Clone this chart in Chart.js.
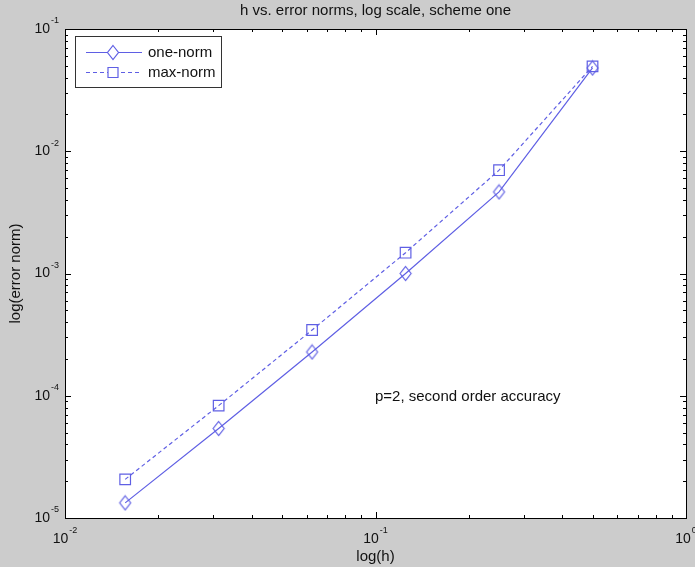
<!DOCTYPE html>
<html>
<head>
<meta charset="utf-8">
<script src="https://cdn.jsdelivr.net/npm/chart.js@4"></script>
<style>
  body { margin: 0; background: #cccccc; }
</style>
</head>
<body>
<canvas id="myChart" width="695" height="567"></canvas>
<script>
// step sizes h and the two error norms
var hValues = [0.015625, 0.03125, 0.0625, 0.125, 0.25, 0.5];
var oneNorm = [1.33e-5, 5.4e-5, 2.28e-4, 1.0e-3, 4.65e-3, 4.8e-2];
var maxNorm = [2.07e-5, 8.3e-5, 3.45e-4, 1.48e-3, 7.0e-3, 4.95e-2];
var xTickExps = [-2, -1, 0];
var yTickExps = [-5, -4, -3, -2, -1];
var seriesNames = ["one-norm", "max-norm"];

var lineColor = "rgb(95,95,228)";
var FONT = "Liberation Sans, Arial, sans-serif";

function toPoints(ys) {
  var pts = [];
  for (var i = 0; i < hValues.length; i++) {
    pts.push({x: hValues[i], y: ys[i]});
  }
  return pts;
}

// matlab style diamond, a bit taller than wide
function diamondPath(ctx, x, y) {
  ctx.moveTo(x, y - 7);
  ctx.lineTo(x + 5.5, y);
  ctx.lineTo(x, y + 7);
  ctx.lineTo(x - 5.5, y);
  ctx.closePath();
}
var diamond = document.createElement("canvas");
diamond.width = 15; diamond.height = 17;
(function() {
  var c = diamond.getContext("2d");
  c.strokeStyle = lineColor;
  c.lineWidth = 1.2;
  c.beginPath();
  diamondPath(c, 7.5, 8.5);
  c.stroke();
})();

// "10" with a small raised exponent
function drawPow(ctx, x, y, exp, align) {
  var base = "10", sup = String(exp);
  ctx.font = "14px " + FONT;
  var wb = ctx.measureText(base).width;
  ctx.font = "9px " + FONT;
  var ws = ctx.measureText(sup).width;
  var left;
  if (align == "right") left = x - wb - ws - 1;
  else left = x - (wb + ws + 1) / 2;
  ctx.fillStyle = "#111";
  ctx.textAlign = "left";
  ctx.textBaseline = "middle";
  ctx.font = "14px " + FONT;
  ctx.fillText(base, left, y);
  ctx.font = "9px " + FONT;
  ctx.fillText(sup, left + wb + 1, y - 8);
}

var matlabAxes = {
  id: "matlabAxes",
  beforeDraw: function(chart) {
    var ctx = chart.ctx, a = chart.chartArea;
    ctx.save();
    ctx.fillStyle = "#cccccc";
    ctx.fillRect(0, 0, chart.width, chart.height);
    ctx.fillStyle = "#ffffff";
    ctx.fillRect(a.left, a.top, a.right - a.left, a.bottom - a.top);
    ctx.restore();
  },
  afterDraw: function(chart) {
    var ctx = chart.ctx, a = chart.chartArea;
    var xs = chart.scales.x, ys = chart.scales.y;
    ctx.save();
    ctx.strokeStyle = "#000";
    ctx.lineWidth = 1;
    ctx.strokeRect(Math.round(a.left) + 0.5, Math.round(a.top) + 0.5,
                   Math.round(a.right - a.left), Math.round(a.bottom - a.top));

    // inward ticks, all four sides
    ctx.beginPath();
    for (var e = -2; e < 0; e++) {
      for (var k = 1; k <= 10; k++) {
        var v = k * Math.pow(10, e);
        var px = Math.round(xs.getPixelForValue(v)) + 0.5;
        var len = (k == 1 || k == 10) ? 6 : 3;
        ctx.moveTo(px, a.bottom); ctx.lineTo(px, a.bottom - len);
        ctx.moveTo(px, a.top); ctx.lineTo(px, a.top + len);
      }
    }
    for (var e2 = -5; e2 < -1; e2++) {
      for (var k2 = 1; k2 <= 10; k2++) {
        var v2 = k2 * Math.pow(10, e2);
        var py = Math.round(ys.getPixelForValue(v2)) + 0.5;
        var len2 = (k2 == 1 || k2 == 10) ? 6 : 3;
        ctx.moveTo(a.left, py); ctx.lineTo(a.left + len2, py);
        ctx.moveTo(a.right, py); ctx.lineTo(a.right - len2, py);
      }
    }
    ctx.stroke();

    // tick labels
    xTickExps.forEach(function(p) {
      drawPow(ctx, xs.getPixelForValue(Math.pow(10, p)), 539, p, "center");
    });
    yTickExps.forEach(function(p) {
      drawPow(ctx, 59, ys.getPixelForValue(Math.pow(10, p)), p, "right");
    });

    // title and axis titles
    ctx.fillStyle = "#111";
    ctx.font = "15px " + FONT;
    ctx.textAlign = "center";
    ctx.textBaseline = "middle";
    var cx = (a.left + a.right) / 2;
    ctx.fillText("h vs. error norms, log scale, scheme one", cx, 11);
    ctx.fillText("log(h)", cx, 557);
    ctx.save();
    ctx.translate(16, (a.top + a.bottom) / 2);
    ctx.rotate(-Math.PI / 2);
    ctx.fillText("log(error norm)", 0, 0);
    ctx.restore();

    // annotation
    ctx.font = "15px " + FONT;
    ctx.textAlign = "left";
    ctx.fillText("p=2, second order accuracy", 375, 397);

    // legend
    ctx.fillStyle = "#fff";
    ctx.fillRect(75.5, 36.5, 146, 51);
    ctx.strokeStyle = "#333";
    ctx.strokeRect(75.5, 36.5, 146, 51);
    var rows = [52, 72];
    chart.data.datasets.forEach(function(ds, i) {
      var y = rows[i] + 0.5;
      ctx.strokeStyle = ds.borderColor;
      ctx.lineWidth = 1.2;
      ctx.setLineDash(ds.borderDash || []);
      ctx.beginPath();
      ctx.moveTo(86, y); ctx.lineTo(142, y);
      ctx.stroke();
      ctx.setLineDash([]);
      ctx.beginPath();
      if (i == 0) diamondPath(ctx, 113, y);
      else ctx.rect(108, y - 5, 10, 10);
      ctx.fillStyle = "#fff";
      ctx.fill();
      ctx.stroke();
      ctx.fillStyle = "#111";
      ctx.font = "15px " + FONT;
      ctx.textBaseline = "middle";
      ctx.fillText(seriesNames[i], 148, y);
    });
    ctx.restore();
  }
};

new Chart("myChart", {
  type: "line",
  data: {
    datasets: [{
      label: seriesNames[0],
      data: toPoints(oneNorm),
      borderColor: lineColor,
      borderWidth: 1.2,
      pointStyle: diamond,
      fill: false
    }, {
      label: seriesNames[1],
      data: toPoints(maxNorm),
      borderColor: lineColor,
      borderWidth: 1.2,
      borderDash: [4, 3],
      pointStyle: "rect",
      pointRadius: 7.5,
      pointBorderColor: lineColor,
      pointBackgroundColor: "rgba(0,0,0,0)",
      pointBorderWidth: 1.2,
      fill: false
    }]
  },
  options: {
    responsive: false,
    animation: false,
    layout: {padding: {left: 65, top: 29, right: 9, bottom: 49}},
    scales: {
      x: {type: "logarithmic", min: 0.01, max: 1, display: false},
      y: {type: "logarithmic", min: 1e-5, max: 0.1, display: false}
    },
    plugins: {
      legend: {display: false},
      tooltip: {enabled: false}
    }
  },
  plugins: [matlabAxes]
});
</script>
</body>
</html>
